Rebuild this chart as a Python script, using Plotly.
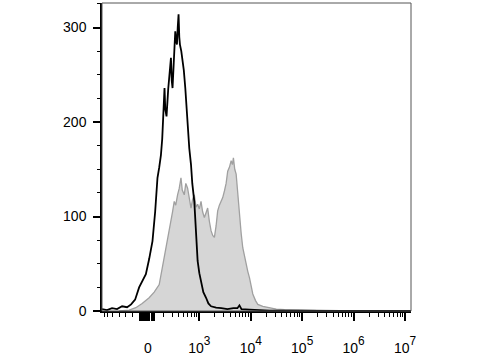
import plotly.graph_objects as go
import math

# x positions are in display units of the biexponential axis:
# 0 -> "0", 1 -> 10^3, 2 -> 10^4, 3 -> 10^5, 4 -> 10^6, 5 -> 10^7
black_x = [-0.893, -0.795, -0.698, -0.600, -0.502, -0.405, -0.327, -0.249, -0.171, -0.112,
           -0.040, 0.024, 0.089, 0.141, 0.186, 0.220, 0.253, 0.278, 0.307, 0.323,
           0.337, 0.362, 0.395, 0.424, 0.448, 0.463, 0.479, 0.502, 0.532, 0.551,
           0.565, 0.580, 0.596, 0.610, 0.623, 0.649, 0.674, 0.698, 0.727, 0.752,
           0.772, 0.785, 0.805, 0.838, 0.863, 0.902, 0.936, 0.967, 1.000, 1.033,
           1.078, 1.131, 1.176, 1.228, 1.326, 1.429, 1.546, 1.663, 1.741, 1.780,
           1.820, 1.976, 2.171, 2.366, 2.756, 3.340, 5.120]
black_y = [2, 1, 3, 2, 5, 4, 7, 12, 25, 32,
           39, 55, 74, 105, 141, 152, 165, 182, 212, 236,
           214, 206, 235, 255, 268, 244, 236, 262, 296, 285,
           282, 300, 314, 290, 282, 275, 265, 255, 236, 215,
           198, 190, 172, 155, 135, 116, 85, 53, 40, 32,
           20, 14, 8, 5, 3.5, 3, 2, 3, 3, 6,
           2, 1.5, 1, 0.5, 0.3, 0, 0]

gray_x = [-0.561, -0.366, -0.235, -0.112, 0.024, 0.122, 0.220, 0.278, 0.350, 0.395,
          0.448, 0.479, 0.512, 0.541, 0.577, 0.610, 0.643, 0.668, 0.707, 0.737,
          0.772, 0.805, 0.838, 0.869, 0.902, 0.936, 0.967, 1.000, 1.033, 1.064,
          1.098, 1.131, 1.162, 1.195, 1.228, 1.260, 1.293, 1.326, 1.357, 1.390,
          1.423, 1.455, 1.488, 1.521, 1.552, 1.585, 1.619, 1.644, 1.663, 1.689,
          1.716, 1.747, 1.780, 1.814, 1.845, 1.878, 1.911, 1.942, 1.976, 2.009,
          2.040, 2.093, 2.137, 2.235, 2.366, 2.497, 2.659, 2.951, 3.341, 3.732, 5.120]
gray_y = [0, 1, 3.5, 8, 14, 20, 28, 45, 67, 80,
          92, 105, 116, 112, 123, 130, 141, 128, 123, 135,
          130, 118, 109, 118, 123, 110, 113, 108, 116, 105,
          99, 104, 109, 95, 85, 80, 78, 90, 106, 112,
          116, 120, 127, 135, 148, 152, 159, 155, 162, 150,
          145, 125, 99, 82, 67, 57, 49, 42, 35, 26,
          18, 11, 7, 5, 3.5, 2, 1.5, 1, 0.5, 0.3, 0]

SUP = "<span style='font-size:17px'><sup>{}</sup></span>"
x_tick_vals = [0, 1, 2, 3, 4, 5]
x_tick_text = ["0"] + ["10" + SUP.format(p) for p in [3, 4, 5, 6, 7]]
zero_cluster = [-0.16, -0.11, -0.07, -0.03, 0.03, 0.07, 0.11]
neg_minor = [-0.85, -0.78, -0.69, -0.56, -0.43, -0.30]
y_tick_vals = [0, 100, 200, 300]

log_minor = [d + math.log10(k) for d in range(0, 5) for k in range(2, 10)]

fig = go.Figure()
fig.add_trace(go.Scatter(x=gray_x, y=gray_y, mode="lines", fill="tozeroy",
                         fillcolor="#d6d6d6", line=dict(color="#a0a0a0", width=1.3),
                         showlegend=False))
fig.add_trace(go.Scatter(x=black_x, y=black_y, mode="lines",
                         line=dict(color="black", width=1.8), showlegend=False))

font = dict(family="Liberation Sans, Arial, sans-serif", size=14, color="black")

fig.update_layout(
    width=480, height=360,
    margin=dict(l=102, r=69, t=3, b=49),
    paper_bgcolor="white", plot_bgcolor="white",
    font=font,
    xaxis=dict(range=[-0.893, 5.117], showgrid=False, zeroline=False,
               tickmode="array",
               tickvals=x_tick_vals + zero_cluster,
               ticktext=x_tick_text + [""] * len(zero_cluster),
               ticks="outside", ticklen=8, tickwidth=1.5, tickcolor="black",
               ticklabelstandoff=15,
               showline=True, linecolor="black", linewidth=1.5,
               minor=dict(tickmode="array", tickvals=neg_minor + log_minor,
                          ticks="outside", ticklen=4, tickwidth=1, tickcolor="black")),
    yaxis=dict(range=[0, 326], showgrid=False, zeroline=False,
               tickmode="array", tickvals=y_tick_vals,
               ticks="outside", ticklen=7, tickwidth=1.5, tickcolor="black",
               ticklabelstandoff=4,
               showline=True, linecolor="black", linewidth=1.5,
               minor=dict(dtick=25, ticks="outside", ticklen=3, tickwidth=1,
                          tickcolor="black")),
    shapes=[dict(type="rect", xref="paper", yref="paper", x0=0, y0=0, x1=1, y1=1,
                 line=dict(color="#555555", width=1), layer="above")],
)

fig.write_html("out.html")
